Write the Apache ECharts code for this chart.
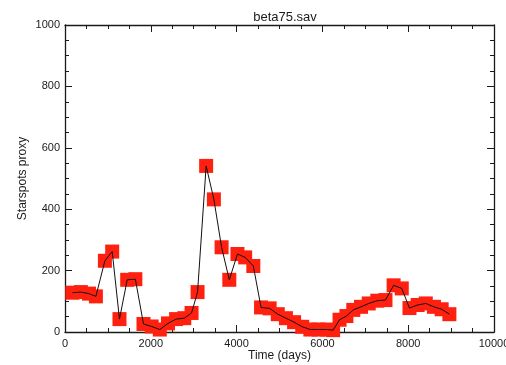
<!DOCTYPE html>
<html>
<head>
<meta charset="utf-8">
<script src="https://cdn.jsdelivr.net/npm/echarts@6/dist/echarts.min.js"></script>
<style>
  html, body { margin: 0; padding: 0; background: #fff; }
  #chart { width: 506px; height: 365px; }
</style>
</head>
<body>
<div id="chart"></div>
<script>
// Observation times (days)
const days = [
  170, 370, 560, 720, 930, 1100, 1270, 1450, 1640, 1830,
  2020, 2210, 2400, 2590, 2780, 2950, 3090, 3290, 3470, 3650,
  3830, 4020, 4200, 4390, 4570, 4770, 4960, 5150, 5340, 5530,
  5720, 5910, 6100, 6250, 6400, 6560, 6720, 6900, 7080, 7280,
  7470, 7660, 7850, 8030, 8220, 8410, 8600, 8780, 8960
];
// Starspot proxy at each time
const proxy = [
  128, 130, 125, 116, 232, 262, 42, 170, 172, 26,
  18, 8, 28, 42, 45, 62, 130, 541, 432, 276,
  170, 254, 243, 215, 80, 77, 58, 45, 32, 17,
  8, 8, 8, 6, 40, 52, 72, 82, 93, 102,
  104, 152, 142, 78, 88, 93, 82, 74, 58
];

const xRange = [0, 10000];
const yRange = [0, 1000];
const xStep = 2000;
const yStep = 200;

const FONT = 'Liberation Sans, Arial, sans-serif';
const INK = '#1a1a1a';

const points = days.map((d, i) => [d, proxy[i]]);
const plain = v => String(v);

function frameAxis(extra) {
  return Object.assign({
    type: 'value',
    gridIndex: 0,
    axisLine: { show: true, onZero: false, lineStyle: { color: INK, width: 1.3 } },
    axisTick: { show: true, inside: true, length: 7, lineStyle: { color: INK, width: 1 } },
    minorTick: { show: true, splitNumber: 4, length: 4, lineStyle: { color: INK, width: 1 } },
    splitLine: { show: false },
    minorSplitLine: { show: false }
  }, extra);
}

const chart = echarts.init(document.getElementById('chart'), null, { renderer: 'canvas' });
chart.setOption({
  animation: false,
  backgroundColor: '#fff',
  title: {
    text: 'beta75.sav',
    left: 280,
    top: 6,
    textAlign: 'center',
    textStyle: { fontFamily: FONT, fontSize: 13, fontWeight: 'normal', color: INK }
  },
  grid: { left: 65, right: 12, top: 25, bottom: 33, outerBoundsMode: 'none', containLabel: false },
  xAxis: [
    frameAxis({
      position: 'bottom',
      min: xRange[0], max: xRange[1], interval: xStep,
      name: 'Time (days)',
      nameLocation: 'middle',
      nameGap: 18,
      nameMoveOverlap: false,
      nameTextStyle: { fontFamily: FONT, fontSize: 12, color: INK },
      axisLabel: { fontFamily: FONT, fontSize: 11, color: INK, margin: 6, formatter: plain }
    }),
    frameAxis({
      position: 'top',
      min: xRange[0], max: xRange[1], interval: xStep,
      axisLabel: { show: false }
    })
  ],
  yAxis: [
    frameAxis({
      position: 'left',
      min: yRange[0], max: yRange[1], interval: yStep,
      name: 'Starspots proxy',
      nameLocation: 'middle',
      nameGap: 36,
      nameMoveOverlap: false,
      nameTextStyle: { fontFamily: FONT, fontSize: 12, color: INK },
      axisLabel: { fontFamily: FONT, fontSize: 11, color: INK, margin: 5, formatter: plain }
    }),
    frameAxis({
      position: 'right',
      min: yRange[0], max: yRange[1], interval: yStep,
      axisLabel: { show: false }
    })
  ],
  series: [
    {
      type: 'scatter',
      xAxisIndex: 0, yAxisIndex: 0,
      data: points,
      symbol: 'rect',
      symbolSize: 14,
      itemStyle: { color: '#ff2010', opacity: 1 },
      z: 2
    },
    {
      type: 'line',
      xAxisIndex: 0, yAxisIndex: 0,
      data: points,
      showSymbol: false,
      lineStyle: { color: '#111', width: 1 },
      z: 3
    }
  ]
});
</script>
</body>
</html>
